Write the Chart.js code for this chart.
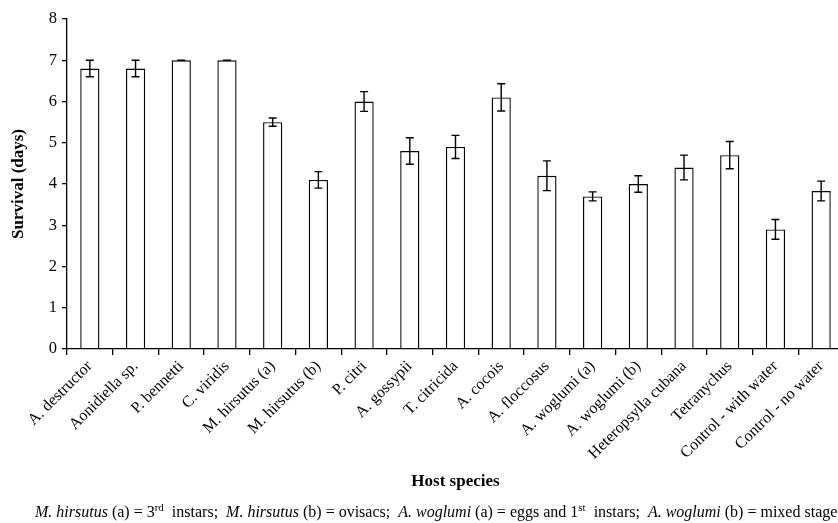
<!DOCTYPE html>
<html>
<head>
<meta charset="utf-8">
<script src="https://cdn.jsdelivr.net/npm/chart.js@4/dist/chart.umd.min.js"></script>
<style>
  html, body { margin:0; padding:0; background:#fff; overflow:hidden; width:838px; height:523px; }
  #wrap { position:relative; width:838px; height:523px; overflow:hidden; }
  #survivalChart { position:absolute; left:0; top:0; }
  #note { position:absolute; left:35px; top:503px; white-space:nowrap;
          font-family:"Liberation Serif","Times New Roman",serif; font-size:16px; color:#000; }
  #note sup { font-size:11px; line-height:0; }
</style>
</head>
<body>
<div id="wrap">
  <canvas id="survivalChart" width="844" height="523"></canvas>
  <div id="note"><i>M. hirsutus</i> (a) = 3<sup>rd</sup>&nbsp; instars;&nbsp; <i>M. hirsutus</i> (b) = ovisacs;&nbsp; <i>A. woglumi</i> (a) = eggs and 1<sup>st</sup>&nbsp; instars;&nbsp; <i>A. woglumi</i> (b) = mixed stages</div>
</div>
<script>
// host species
let hosts=["A. destructor","Aonidiella sp.","P. bennetti","C. viridis","M. hirsutus (a)","M. hirsutus (b)",
    "P. citri","A. gossypii","T. citricida","A. cocois","A. floccosus","A. woglumi (a)","A. woglumi (b)",
    "Heteropsylla cubana","Tetranychus","Control - with water","Control - no water"];
// mean survival (days)
let survival=[6.8,6.8,7.0,7.0,5.5,4.1,6.0,4.8,4.9,6.1,4.2,3.7,4.0,4.4,4.7,2.9,3.83];
// standard error
let stdErr=[0.2,0.2,0.0,0.0,0.1,0.2,0.24,0.32,0.28,0.33,0.36,0.11,0.2,0.3,0.33,0.24,0.24];
let yTicks=[0,1,2,3,4,5,6,7,8];

const serif="'Liberation Serif','Times New Roman',serif";

//error bars drawn from the scale
const errorBars={
    id:"errorBars",
    afterDatasetsDraw(chart){
        const ctx=chart.ctx;
        const y=chart.scales.y;
        const meta=chart.getDatasetMeta(0);
        ctx.save();
        ctx.strokeStyle="#000";
        ctx.lineWidth=1.4;
        for(let i=0;i<survival.length;i++){
            let x=meta.data[i].x;
            let top=y.getPixelForValue(survival[i]+stdErr[i]);
            let bot=y.getPixelForValue(survival[i]-stdErr[i]);
            ctx.beginPath();
            ctx.moveTo(x,top);ctx.lineTo(x,bot);
            ctx.moveTo(x-4,top);ctx.lineTo(x+4,top);
            ctx.moveTo(x-4,bot);ctx.lineTo(x+4,bot);
            ctx.stroke();
        }
        ctx.restore();
    }
};

new Chart(document.querySelector("#survivalChart"),{
    type:"bar",
    data:{
        labels:hosts,
        datasets:[{
            data:survival,
            backgroundColor:"#fff",
            borderColor:"#000",
            borderWidth:1.4,
            categoryPercentage:1,
            barPercentage:0.42
        }]
    },
    options:{
        responsive:false,
        animation:false,
        layout:{padding:{top:19,left:0,right:0,bottom:0}},
        plugins:{legend:{display:false},tooltip:{enabled:false}},
        scales:{
            x:{
                offset:true,
                grid:{display:true,drawOnChartArea:false,offset:true,tickLength:6,color:"#000",lineWidth:1.3},
                border:{color:"#000",width:1.3},
                ticks:{autoSkip:false,minRotation:45,maxRotation:45,padding:2,color:"#000",font:{family:serif,size:16}},
                title:{display:true,text:"Host species",color:"#000",font:{family:serif,size:17,weight:"bold"},padding:{top:0,bottom:31}},
                afterFit:s=>{s.height=174;}
            },
            y:{
                min:0,max:8,
                afterBuildTicks:s=>{s.ticks=yTicks.map(v=>({value:v}));},
                grid:{display:true,drawOnChartArea:false,tickLength:5,color:"#000",lineWidth:1.3},
                border:{color:"#000",width:1.3},
                ticks:{padding:5,color:"#000",font:{family:serif,size:16.5}},
                title:{display:true,text:"Survival (days)",color:"#000",font:{family:serif,size:17,weight:"bold"},padding:{top:8,bottom:0}},
                afterFit:s=>{s.width=67;}
            }
        }
    },
    plugins:[errorBars]
});
</script>
</body>
</html>
